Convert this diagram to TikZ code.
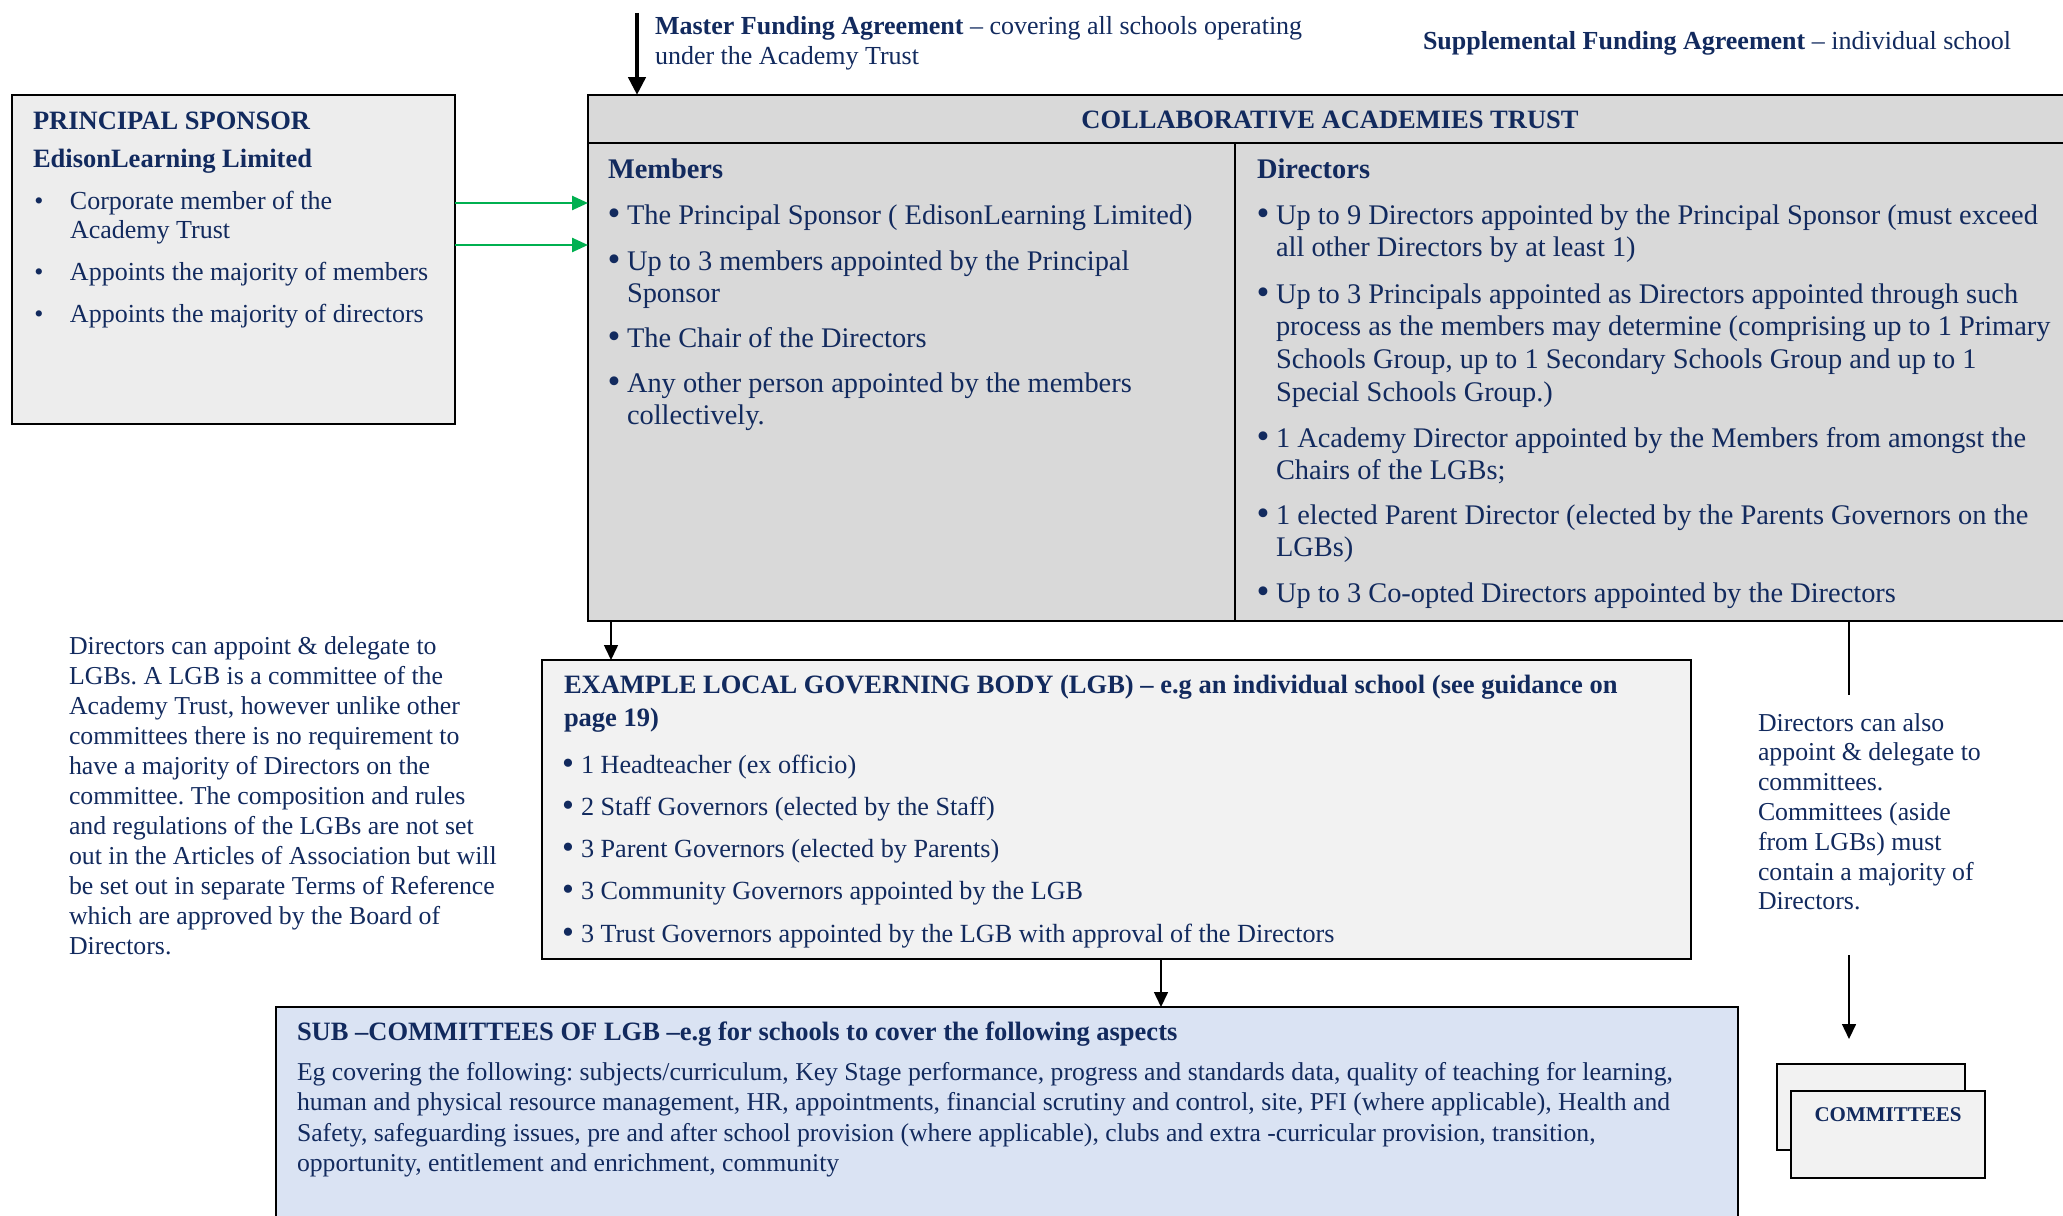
\documentclass[tikz,border=0pt]{standalone}
\usepackage{fontspec}
\usepackage{graphicx}
\setmainfont{Liberation Serif}
\usetikzlibrary{arrows.meta}
\definecolor{navy}{RGB}{18,42,94}
\definecolor{psfill}{HTML}{EDEDED}
\definecolor{trustfill}{HTML}{D9D9D9}
\definecolor{lgbfill}{HTML}{F2F2F2}
\definecolor{subfill}{HTML}{DAE3F3}
\definecolor{arrowgreen}{HTML}{00B050}
\newcommand{\bul}[1]{\llap{\textbullet\hspace{#1}}}
\newcommand{\bbul}[1]{\llap{\raisebox{-0.07em}{\scalebox{1.3}{\textbullet}}\hspace{#1}}}
\frenchspacing
\begin{document}
\begin{tikzpicture}[x=1pt,y=-1pt,
  every node/.style={inner sep=0pt,outer sep=0pt},
  box/.style={draw=black,line width=2pt,anchor=north west,inner sep=0pt},
  txt/.style={text=navy,anchor=base west,align=left},
  fA/.style={font=\fontsize{26}{30}\selectfont},
  fP/.style={font=\fontsize{26}{29.5}\selectfont},
  fB/.style={font=\fontsize{28.4}{32.8}\selectfont},
  fC/.style={font=\fontsize{26.2}{30}\selectfont},
  fN/.style={font=\fontsize{25.8}{30}\selectfont},
  fR/.style={font=\fontsize{25.8}{29.8}\selectfont},
  fS/.style={font=\fontsize{25.7}{30.5}\selectfont},
  fT/.style={font=\fontsize{26.5}{33}\selectfont\bfseries},
  bigarr/.style={line width=4.5pt,-{Triangle[length=18pt,width=17pt]}},
  thinarr/.style={line width=1.5pt,-{Triangle[length=15pt,width=14pt]}},
  greenarr/.style={draw=arrowgreen,line width=2.5pt,-{Triangle[length=16pt,width=14pt]}},
  plainline/.style={line width=1.8pt}
]
\useasboundingbox[fill=white] (0,0) rectangle (2063,1215);

% ---------- boxes ----------
\node[box,fill=psfill,minimum width=443pt,minimum height=329pt] (ps) at (12,95) {};
\node[box,fill=trustfill,line width=2.5pt,minimum width=1490pt,minimum height=48pt] (hdr) at (588,95) {};
\node[box,fill=trustfill,line width=2.5pt,minimum width=647pt,minimum height=478pt] (members) at (588,143) {};
\node[box,fill=trustfill,line width=2.5pt,minimum width=843pt,minimum height=478pt] (directors) at (1235,143) {};
\node[box,fill=lgbfill,minimum width=1149pt,minimum height=299pt] (lgb) at (542,660) {};
\node[box,fill=subfill,line width=2.5pt,minimum width=1462pt,minimum height=240pt] (sub) at (276,1007) {};
\node[box,fill=lgbfill,line width=2.5pt,minimum width=188pt,minimum height=86pt] (comback) at (1777,1064) {};
\node[box,fill=lgbfill,line width=2.5pt,minimum width=194pt,minimum height=87pt] (comfront) at (1791,1091) {};

% ---------- top texts (multi-line nodes are placed at the baseline of their last line) ----------
\node[txt,fA] (mfatext) at (655,65) {\textbf{Master Funding Agreement} – covering all schools operating\\under the Academy Trust};
\node[txt,fA] (sfatext) at (1423,50) {\textbf{Supplemental Funding Agreement} – individual school};

% ---------- principal sponsor ----------
\node[txt,fT] (pstitle) at (33,129) {PRINCIPAL SPONSOR};
\node[txt,fT] (psname) at (33,167) {EdisonLearning Limited};
\node[txt,fP] (psb1) at (70,238.5) {\bul{26.5pt}Corporate member of the\\Academy Trust};
\node[txt,fP] (psb2) at (70,280) {\bul{26.5pt}Appoints the majority of members};
\node[txt,fP] (psb3) at (70,322) {\bul{26.5pt}Appoints the majority of directors};

% ---------- trust ----------
\node[text=navy,anchor=base,fT] (hdrtext) at (1330,128) {COLLABORATIVE ACADEMIES TRUST};
\node[txt,fB] (memtitle) at (608,178) {\textbf{Members}};
\node[txt,fB] (m1) at (627,224) {\bbul{6.5pt}The Principal Sponsor ( EdisonLearning Limited)};
\node[txt,fB] (m2) at (627,302.8) {\bbul{6.5pt}Up to 3 members appointed by the Principal\\Sponsor};
\node[txt,fB] (m3) at (627,347) {\bbul{6.5pt}The Chair of the Directors};
\node[txt,fB] (m4) at (627,424.8) {\bbul{6.5pt}Any other person appointed by the members\\collectively.};

\node[txt,fB] (dirtitle) at (1257,178) {\textbf{Directors}};
\node[txt,fB] (d1) at (1276,256.8) {\bbul{6.5pt}Up to 9 Directors appointed by the Principal Sponsor (must exceed\\all other Directors by at least 1)};
\node[txt,fB] (d2) at (1276,401.4) {\bbul{6.5pt}Up to 3 Principals appointed as Directors appointed through such\\process as the members may determine (comprising up to 1 Primary\\Schools Group, up to 1 Secondary Schools Group and up to 1\\Special Schools Group.)};
\node[txt,fB] (d3) at (1276,479.8) {\bbul{6.5pt}1 Academy Director appointed by the Members from amongst the\\Chairs of the LGBs;};
\node[txt,fB] (d4) at (1276,556.8) {\bbul{6.5pt}1 elected Parent Director (elected by the Parents Governors on the\\LGBs)};
\node[txt,fB] (d5) at (1276,602) {\bbul{6.5pt}Up to 3 Co-opted Directors appointed by the Directors};

% ---------- notes ----------
\node[txt,fN] (leftnote) at (69,954) {Directors can appoint \& delegate to\\LGBs. A LGB is a committee of the\\Academy Trust, however unlike other\\committees there is no requirement to\\have a majority of Directors on the\\committee. The composition and rules\\and regulations of the LGBs are not set\\out in the Articles of Association but will\\be set out in separate Terms of Reference\\which are approved by the Board of\\Directors.};
\node[txt,fR] (rightnote) at (1758,909.8) {Directors can also\\appoint \& delegate to\\committees.\\Committees (aside\\from LGBs) must\\contain a majority of\\Directors.};

% ---------- LGB ----------
\node[txt,fT] (lgbtitle) at (564,726) {EXAMPLE LOCAL GOVERNING BODY (LGB) – e.g an individual school (see guidance on\\page 19)};
\node[txt,fC] (l1) at (581,773) {\bbul{7pt}1 Headteacher (ex officio)};
\node[txt,fC] (l2) at (581,815) {\bbul{7pt}2 Staff Governors (elected by the Staff)};
\node[txt,fC] (l3) at (581,857) {\bbul{7pt}3 Parent Governors (elected by Parents)};
\node[txt,fC] (l4) at (581,899) {\bbul{7pt}3 Community Governors appointed by the LGB};
\node[txt,fC] (l5) at (581,942) {\bbul{7pt}3 Trust Governors appointed by the LGB with approval of the Directors};

% ---------- sub-committees ----------
\node[txt,fT] (subtitle) at (297,1040) {SUB –COMMITTEES OF LGB –e.g for schools to cover the following aspects};
\node[txt,fS] (subbody) at (297,1171.5) {Eg covering the following: subjects/curriculum, Key Stage performance, progress and standards data, quality of teaching for learning,\\human and physical resource management, HR, appointments, financial scrutiny and control, site, PFI (where applicable), Health and\\Safety, safeguarding issues, pre and after school provision (where applicable), clubs and extra -curricular provision, transition,\\opportunity, entitlement and enrichment, community};

% ---------- committees ----------
\node[text=navy,anchor=base,font=\fontsize{21}{24}\selectfont\bfseries] (comtext) at (1888,1121) {COMMITTEES};

% ---------- connectors ----------
\coordinate (mfastart) at (637,13);
\draw[bigarr] (mfastart) -- (mfastart |- hdr.north);
\draw[greenarr] ([yshift=-108pt]ps.north east) -- ([yshift=-108pt]ps.north east -| members.west);
\draw[greenarr] ([yshift=-150pt]ps.north east) -- ([yshift=-150pt]ps.north east -| members.west);
\draw[thinarr] ([xshift=23pt]members.south west) -- ([xshift=23pt]members.south west |- lgb.north);
\draw[thinarr] ([xshift=44.5pt]lgb.south) -- ([xshift=44.5pt]lgb.south |- sub.north);
\coordinate (dl1) at (1849,695);
\coordinate (dl2) at (1849,955);
\coordinate (dl3) at (1849,1039);
\draw[plainline] (dl1 |- directors.south) -- (dl1);
\draw[thinarr] (dl2) -- (dl3);
\end{tikzpicture}
\end{document}
